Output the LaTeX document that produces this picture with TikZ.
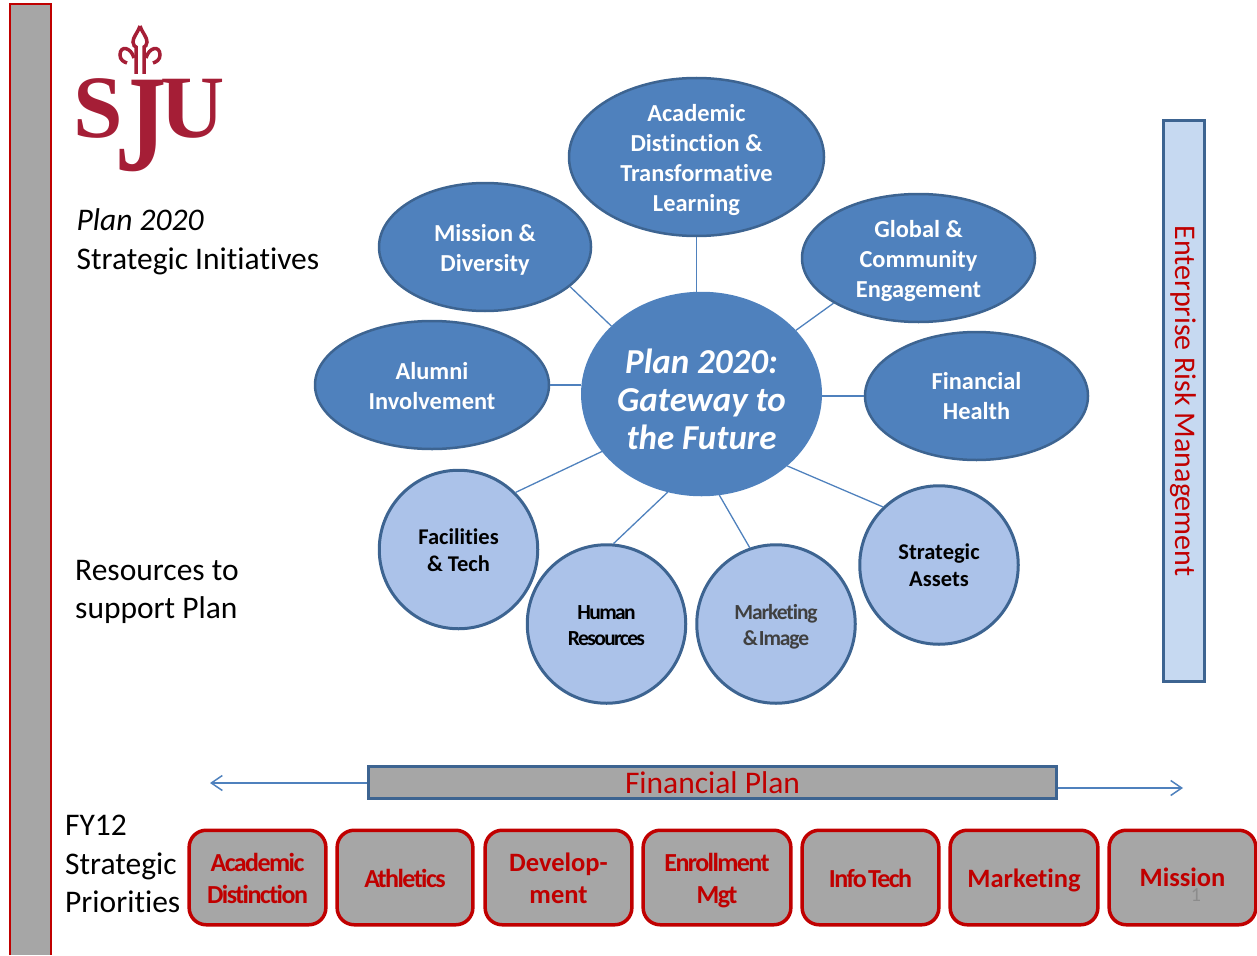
\documentclass[tikz,border=0pt]{standalone}
\usepackage{fontspec}
\setmainfont[Ligatures=NoCommon]{Carlito}
\newfontfamily\logofont{Liberation Serif}
\usetikzlibrary{shapes.geometric,arrows.meta}
\definecolor{sjured}{HTML}{A51E36}
\definecolor{boxred}{HTML}{C00000}
\definecolor{midblue}{HTML}{4F81BD}
\definecolor{darkblue}{HTML}{3D6491}
\definecolor{paleblue}{HTML}{ABC2E9}
\definecolor{barblue}{HTML}{C6D9F1}
\definecolor{bargray}{HTML}{A6A6A6}
\newcommand{\lowerby}[1]{\rule{0pt}{\dimexpr0.73em+#1\relax}}
\begin{document}
\begin{tikzpicture}[x=1pt,y=-1pt,
	initiative/.style={ellipse,draw=darkblue,line width=2.5pt,fill=midblue,inner sep=0pt,align=center,text=white,font=\fontsize{24.4}{30}\selectfont\bfseries},
	resource/.style={ellipse,draw=darkblue,line width=3pt,fill=paleblue,inner sep=0pt,minimum width=158.5pt,minimum height=158.5pt,align=center,font=\fontsize{22.5}{27}\selectfont\bfseries},
	tightres/.style={font=\fontsize{21.5}{26}\selectfont\bfseries\addfontfeature{LetterSpace=-#1}},
	priority/.style={rectangle,rounded corners=17pt,draw=boxred,line width=3.5pt,fill=bargray,inner sep=0pt,minimum height=94.5pt,align=center,text=boxred,font=\fontsize{26.5}{32}\selectfont\bfseries},
	tightpri/.style={font=\fontsize{26}{32}\selectfont\bfseries\addfontfeature{LetterSpace=-6}},
	bar/.style={rectangle,draw=darkblue,line width=3pt,inner sep=0pt,text=boxred,font=\fontsize{30}{36}\selectfont},
	link/.style={midblue,line width=1.3pt},
	caption/.style={anchor=west,inner sep=0pt,align=left,font=\fontsize{31.5}{38.5}\selectfont},
	stretch/.style={midblue,line width=1.5pt,-{Straight Barb[length=11pt,width=15pt,line width=1.5pt]}}]
	\useasboundingbox (0,0) rectangle (1257,955);
	
	% side bar
	\fill[bargray] (10,4) rectangle (51,955);
	\draw[boxred,line width=2.5pt] (10,955) -- (10,4) -- (51,4) -- (51,955);
	
	% logo
	\node[inner sep=0pt,anchor=base,text=sjured,font=\fontsize{89}{89}\selectfont\logofont\bfseries] (logo) at (149,137) {S\kern-7pt\raisebox{-33pt}{\scalebox{1.15}[1.55]{J}}\kern-6ptU};
	\draw[sjured,line width=3.5pt] (140,26) .. controls (137,34) and (133,37) .. (133,42) .. controls (133,45) and (135,47) .. (136,47) -- (136,74);
	\draw[sjured,line width=3.5pt] (140,26) .. controls (143,34) and (147,37) .. (147,42) .. controls (147,45) and (145,47) .. (144,47) -- (144,74);
	\draw[sjured,line width=3.5pt] (134,58) .. controls (131,47) and (120,45) .. (120,55) .. controls (120,60) and (124,62) .. (127,63);
	\draw[sjured,line width=3.5pt] (146,58) .. controls (149,47) and (160,45) .. (160,55) .. controls (160,60) and (156,62) .. (153,63);
	
	% captions
	\node[caption] (plancaption) at (76.5,242) {\textit{Plan 2020}\\Strategic Initiatives};
	\node[caption] (rescaption) at (75,592) {Resources to\\support Plan};
	\node[caption] (fycaption) at (65,864) {FY12\\Strategic\\Priorities};
	
	% hub and initiatives
	\node[initiative,draw=midblue,minimum width=237pt,minimum height=202pt,font=\fontsize{35}{38}\selectfont\bfseries\itshape] (plan) at (701.5,394) {\lowerby{10pt}Plan 2020:\\Gateway to\\the Future};
	\node[initiative,minimum width=255pt,minimum height=158pt,inner sep=-8pt] (academic) at (696.5,157) {\lowerby{6pt}Academic\\Distinction \&\\Transformative\\Learning};
	\node[initiative,minimum width=212pt,minimum height=128pt] (mission) at (485,247) {\lowerby{6pt}Mission \&\\Diversity};
	\node[initiative,minimum width=233pt,minimum height=128pt] (global) at (918.5,258) {\lowerby{5pt}Global \&\\Community\\Engagement};
	\node[initiative,minimum width=234pt,minimum height=128pt] (alumni) at (432,385) {\lowerby{1pt}Alumni\\Involvement};
	\node[initiative,minimum width=223pt,minimum height=128pt] (financial) at (976.5,396) {Financial\\Health};
	
	% resources
	\node[resource] (facilities) at (458.5,549.5) {\lowerby{1pt}Facilities\\\& Tech};
	\node[resource,tightres=7.5] (human) at (606.5,624) {\lowerby{1pt}Human\\Resources};
	\node[resource,text=black!75,tightres=5] (marketing) at (776,624) {\lowerby{4pt}Marketing\\\&\kern-3pt\ Image};
	\node[resource] (strategic) at (939,565) {Strategic\\Assets};
	
	\draw[link] (academic.south) -- (academic.south |- plan.north);
	\draw[link] (plan.143.9) -- (mission.-25.7);
	\draw[link] (plan.34.7) -- (global.208.9);
	\draw[link] (alumni.east -| plan.west) -- (alumni.east);
	\draw[link] (financial.west -| plan.east) -- (financial.west);
	\draw[link] (plan.210.7) -- (facilities.45);
	\draw[link] (plan.251.6) -- (human.85.4);
	\draw[link] (plan.280) -- (marketing.109.3);
	\draw[link] (plan.-40.9) -- (strategic.134.5);
	
	% bars
	\node[bar,fill=barblue,minimum width=560pt,minimum height=41pt,rotate=-90] (risk) at (1183.5,401) {Enterprise Risk Management};
	\node[bar,fill=bargray,minimum width=687.5pt,minimum height=31.5pt,font=\fontsize{31.5}{36}\selectfont] (finplan) at (712.5,782.5) {Financial Plan};
	\coordinate (leftend) at (210,783);
	\coordinate (rightend) at (1183,788);
	\draw[stretch] (finplan.west |- leftend) -- (leftend);
	\draw[stretch] (finplan.east |- rightend) -- (rightend);
	
	% priorities
	\node[priority,minimum width=136.7pt,tightpri] (acad) at (257.5,877.5) {\lowerby{2pt}Academic\\Distinction};
	\node[priority,minimum width=135.7pt,tightpri] (athletics) at (405,877.5) {\lowerby{2pt}Athletics};
	\node[priority,minimum width=146.7pt] (develop) at (558.5,877.5) {\lowerby{1pt}Develop-\\ment};
	\node[priority,minimum width=147.7pt,tightpri] (enroll) at (717,877.5) {\lowerby{6pt}Enrollment\\Mgt};
	\node[priority,minimum width=136.7pt,tightpri] (infotech) at (870.5,877.5) {\lowerby{2pt}Info\kern-3pt\ Tech};
	\node[priority,minimum width=147.7pt] (mktg) at (1024,877.5) {\lowerby{6pt}Marketing};
	\node[priority,minimum width=146.7pt] (missionbox) at (1182.5,877.5) {Mission};
	\node[inner sep=0pt,text=black!45,font=\fontsize{20}{24}\selectfont] (pagenum) at (1196,895) {1};
\end{tikzpicture}
\end{document}
